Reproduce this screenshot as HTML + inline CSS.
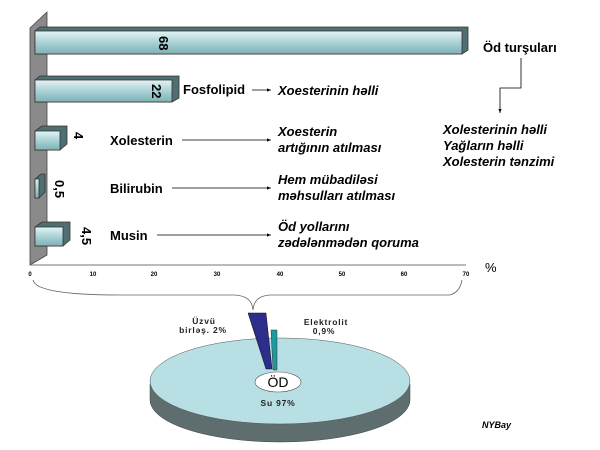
<!DOCTYPE html>
<html><head><style>body{margin:0;background:#fff}svg{display:block}</style></head><body>
<svg width="600" height="450" viewBox="0 0 600 450" xmlns="http://www.w3.org/2000/svg" font-family="Liberation Sans, sans-serif">
<defs>
<linearGradient id="bg" x1="0" y1="0" x2="0" y2="1"><stop offset="0" stop-color="#e6f4f5"/><stop offset=".5" stop-color="#a9d2d6"/><stop offset="1" stop-color="#7fb0b5"/></linearGradient>
<marker id="ar" markerWidth="6" markerHeight="6" refX="5" refY="3" orient="auto"><path d="M0,1 L5,3 L0,5z" fill="#000"/></marker>
</defs>
<polygon points="30,28 47,12 47,255 30,265" fill="#8a8a8a" stroke="#444" stroke-width="0.8"/>
<line x1="30" y1="265" x2="466" y2="265" stroke="#777"/>
<g font-size="6" font-weight="bold" text-anchor="middle" fill="#000">
<text x="30" y="276">0</text><text x="93" y="276">10</text><text x="154" y="276">20</text><text x="217" y="276">30</text><text x="280" y="276">40</text><text x="342" y="276">50</text><text x="404" y="276">60</text><text x="466" y="276">70</text></g>
<text x="485" y="272" font-size="13">%</text>
<g stroke="#333" stroke-width="0.8">
<polygon points="35,54 35,31 40,27 468,27 468,50 462,54" fill="#4f6f72"/><rect x="35" y="31" width="427" height="23" fill="url(#bg)"/>
<polygon points="35,102 35,80 40,76 179,76 179,98 172,102" fill="#4f6f72"/><rect x="35" y="80" width="137" height="22" fill="url(#bg)"/>
<polygon points="35,150 35,131 42,126 67,126 67,144 60,150" fill="#4f6f72"/><rect x="35" y="131" width="25" height="19" fill="url(#bg)"/>
<polygon points="35,198 35,179 41,174 45,174 45,192 39,198" fill="#4f6f72"/><rect x="35" y="179" width="4" height="19" fill="url(#bg)"/>
<polygon points="35,246 35,227 42,222 70,222 70,240 63,246" fill="#4f6f72"/><rect x="35" y="227" width="28" height="19" fill="url(#bg)"/>
</g>
<g font-size="13" font-weight="bold" fill="#000">
<text transform="translate(159,36) rotate(90)">68</text>
<text transform="translate(152,84) rotate(90)">22</text>
<text transform="translate(74,132) rotate(90)">4</text>
<text transform="translate(55,180) rotate(90)">0,5</text>
<text transform="translate(82,227) rotate(90)">4,5</text>
<text x="183" y="94">Fosfolipid</text>
<text x="110" y="145">Xolesterin</text>
<text x="110" y="193">Bilirubin</text>
<text x="110" y="240">Musin</text>
<text x="483" y="52">Öd turşuları</text>
</g>
<g stroke="#000" stroke-width="0.8" fill="none" marker-end="url(#ar)">
<line x1="252" y1="90" x2="271" y2="90"/><line x1="182" y1="140" x2="271" y2="140"/><line x1="172" y1="188" x2="271" y2="188"/><line x1="157" y1="235" x2="271" y2="235"/>
<polyline points="521,58 521,88 500,88 500,113"/>
</g>
<g font-size="13" font-weight="bold" font-style="italic" fill="#000">
<text x="278" y="95">Xoesterinin həlli</text>
<text x="278" y="136">Xoesterin</text><text x="278" y="152">artığının atılması</text>
<text x="278" y="184">Hem mübadiləsi</text><text x="278" y="200">məhsulları atılması</text>
<text x="278" y="231">Öd yollarını</text><text x="278" y="247">zədələnmədən qoruma</text>
<text x="443" y="134">Xolesterinin həlli</text><text x="443" y="150">Yağların həlli</text><text x="443" y="166">Xolesterin tənzimi</text>
<text x="482" y="428" font-size="9">NYBay</text>
</g>
<path d="M33,280 Q36,295 120,295 L235,295 Q252,296 253,310 Q254,296 270,295 L450,295 Q460,292 462,280" fill="none" stroke="#666" stroke-width="0.8"/>
<path d="M150,384 L150,400 A130,42 0 0 0 410,400 L410,384z" fill="#5e6e6e" stroke="#444" stroke-width="0.5"/>
<ellipse cx="280" cy="381" rx="130" ry="43" fill="#b8dfe3" stroke="#555" stroke-width="0.5"/>
<polygon points="248,313 266,313 272,369 266,369" fill="#2d2d8c" stroke="#111" stroke-width="0.5"/>
<polygon points="248,313 252,325 268,368" fill="#1b1b55"/>
<polygon points="271,330 277,330 277,370 273,370" fill="#1d9a9e" stroke="#333" stroke-width="0.5"/>
<ellipse cx="278" cy="382" rx="23" ry="10" fill="#fff" stroke="#555" stroke-width="0.6"/>
<text x="278" y="387" font-size="14" text-anchor="middle">ÖD</text>
<g font-size="8.5" font-weight="bold" fill="#222" text-anchor="middle" letter-spacing="0.8">
<text x="204" y="324">Üzvü</text><text x="203" y="333">birləş. 2%</text>
<text x="326" y="325">Elektrolit</text><text x="324" y="334">0,9%</text>
<text x="278" y="406">Su 97%</text>
</g>
</svg>
</body></html>
